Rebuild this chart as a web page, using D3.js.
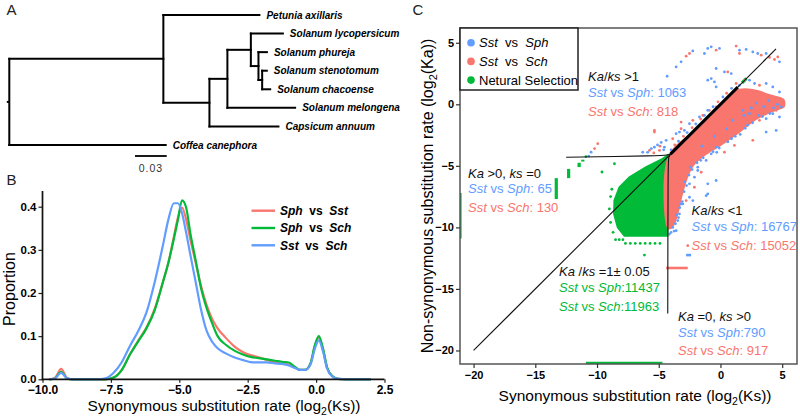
<!DOCTYPE html>
<html><head><meta charset="utf-8">
<script src="https://cdn.jsdelivr.net/npm/d3@7"></script>
<style>
body{margin:0;background:#fff;}
svg{font-family:"Liberation Sans",Arial,Helvetica,sans-serif;}
text{white-space:pre;}
</style></head><body>
<svg id="c" width="800" height="419"></svg>
<script>
// ---------------- DATA ----------------
// Panel A: phylogenetic tree (branch lengths, substitutions/site)
const treeNodes = [
  {id:"root", parent:null, len:0},
  {id:"n1", parent:"root", len:0.1458},
  {id:"Petunia axillaris", parent:"n1", len:0.0909},
  {id:"n2", parent:"n1", len:0.0436},
  {id:"n3", parent:"n2", len:0.0170},
  {id:"n4", parent:"n3", len:0.0222},
  {id:"Solanum lycopersicum", parent:"n4", len:0.0303},
  {id:"n5", parent:"n4", len:0.0072},
  {id:"Solanum phureja", parent:"n5", len:0.0080},
  {id:"n6", parent:"n5", len:0.0035},
  {id:"Solanum stenotomum", parent:"n6", len:0.0044},
  {id:"Solanum chacoense", parent:"n6", len:0.0076},
  {id:"Solanum melongena", parent:"n3", len:0.0641},
  {id:"Capsicum annuum", parent:"n2", len:0.0653},
  {id:"Coffea canephora", parent:"root", len:0.1480}
];
const scaleBarValue = 0.03;

// Panel B: density of log2(Ks)
const ksGrid = [-9.75,-9.55,-9.32,-9.1,-8.9,-8.0,-7.7,-7.4,-7.1,-6.8,-6.5,-6.2,-5.9,-5.6,-5.4,-5.2,-5.05,-4.9,-4.75,-4.6,-4.4,-4.2,-4.0,-3.8,-3.6,-3.3,-3.0,-2.7,-2.4,-2.1,-1.8,-1.5,-1.2,-1.0,-0.8,-0.6,-0.4,-0.2,-0.05,0.1,0.25,0.4,0.6,0.8,1.1,1.6,2.0];
const sphSst = [0,0.003,0.024,0.003,0,0,0,0.004,0.022,0.058,0.09,0.12,0.163,0.225,0.27,0.33,0.375,0.398,0.37,0.325,0.27,0.215,0.172,0.14,0.118,0.096,0.077,0.064,0.056,0.051,0.045,0.04,0.036,0.034,0.029,0.022,0.022,0.037,0.076,0.097,0.07,0.027,0.007,0.001,0,0,0];
const sphSch = [0,0.002,0.017,0.002,0,0,0,0.004,0.022,0.058,0.088,0.118,0.16,0.225,0.27,0.325,0.37,0.415,0.398,0.34,0.275,0.21,0.165,0.13,0.1,0.08,0.067,0.058,0.052,0.049,0.046,0.043,0.04,0.039,0.03,0.022,0.022,0.038,0.078,0.1,0.072,0.028,0.007,0.001,0,0,0];
const sstSch = [0,0.002,0.015,0.002,0,0,0.002,0.015,0.04,0.078,0.112,0.155,0.225,0.31,0.37,0.408,0.408,0.385,0.34,0.29,0.225,0.16,0.112,0.087,0.072,0.06,0.051,0.045,0.04,0.039,0.039,0.037,0.035,0.032,0.027,0.022,0.022,0.035,0.07,0.09,0.065,0.025,0.006,0.001,0,0,0];
const legendB = [["Sph","Sst"],["Sph","Sch"],["Sst","Sch"]];
const xTicksB = [-10,-7.5,-5,-2.5,0,2.5];
const yTicksB = [0,0.1,0.2,0.3,0.4];

// Panel C: log2(Ks) vs log2(Ka)
const ticksC = [-20,-15,-10,-5,0,5];
const greenCloud = [[-4.3,-4.16],[-4.68,-4.43],[-6.02,-5.11],[-7.37,-5.92],[-8.18,-6.74],[-8.59,-7.82],[-8.62,-8.91],[-8.32,-10.0],[-7.78,-10.68],[-4.3,-10.68]];
const redBand = [[-4.2,-4.25],[-2.0,-2.05],[0.5,0.45],[1.2,1.1],[2.0,1.25],[3.0,1.1],[4.0,0.75],[5.1,0.4],[5.2,0.1],[5.15,-0.2],[4.4,-0.5],[3.0,-1.15],[1.6,-2.2],[0.2,-3.2],[-1.1,-4.0],[-2.2,-4.95],[-2.75,-6.1],[-3.15,-7.5],[-3.45,-8.8],[-3.85,-9.9],[-4.2,-10.1]];
const bluePts = [
 [-4.32,2.28],[-3.59,3.04],[-3.19,3.45],[-2.24,4.34],[-1.3,4.13],[-1.03,4.54],[-0.75,4.67],[-0.08,4.54],[1.54,4.4],[2.08,4.46],[2.62,4.26],[3.02,4.13],[3.7,4.13],[4.78,3.45],
 [-0.35,2.91],[-1.03,1.96],[-0.75,2.09],[-0.49,1.82],[-0.35,1.41],[0.32,2.63],[0.87,2.5],[1.54,1.55],[2.35,1.96],[2.76,1.69],[3.7,1.69],[4.24,1.41],[4.78,1.0],
 [4.92,-0.22],[4.24,-0.76],[3.7,-1.17],[2.35,-0.76],[1.81,-0.49],[2.5,-0.3],[3.5,-0.2],[4.6,0.0],[3.9,0.3],[2.9,0.1],[4.3,-0.3],[1.9,-0.9],[1.0,-1.3],[0.5,-2.0],[-0.5,-2.6],[-1.5,-3.4],
 [-6.3,-3.89],[-5.35,-3.48],[-4.54,-3.48],[-4.4,-2.93],[-3.59,-2.39],[-2.92,-2.12],[-2.51,-1.57],[-1.7,-1.03],[-1.03,-0.49],[-3.32,-2.26],
 [-5.9,-3.9],[-5.6,-3.6],[-5.1,-3.3],[-4.8,-3.1],[-4.6,-3.7],
 [-4.0,-3.7],[-3.4,-3.0],[-2.7,-2.3],[-2.0,-1.6],[-1.3,-0.9],[-0.6,-0.2],[0.2,0.6],[0.9,1.3],
 [-0.35,-3.48],[3.7,-2.26],[4.51,-2.12],[4.78,-1.03],[-0.75,-4.02],[-1.16,-4.56],[-1.84,-5.11],[-2.11,-5.92],[-0.35,-6.19],[-2.51,-6.46],[-1.03,-7.28],[-2.51,-7.55],[-3.05,-8.09],[-1.84,-5.38],[-1.03,-6.46],[-3.32,-8.91],[-3.46,-9.45],[-3.87,-10.0],[-3.59,-10.27],[-4.13,-10.54],[-2.24,-7.82],[-1.16,-7.42],
 [4.0,-0.75],[3.4,-1.0],[2.6,-1.5],[2.0,-1.95],[1.2,-2.6],[0.6,-3.05],[-0.1,-3.55],[-0.6,-3.85],[-1.4,-4.35],[-1.9,-4.75],[-2.3,-5.3],[-2.55,-5.75],[-2.75,-6.6],[-2.95,-7.1],[-3.1,-7.9],[-3.3,-8.4],[-3.4,-9.2],[-3.65,-9.7],[-3.75,-10.3],[-4.0,-10.4],
 [3.1,-0.9],[2.2,-1.7],[1.6,-2.45],[0.9,-2.8],[-0.3,-3.9],[-1.6,-4.55],[-2.45,-5.1],[-2.9,-6.3],[-3.2,-8.1],[-3.55,-9.0],
 [-10.67,-4.21],[-10.48,-3.89]
];
const redPts = [
 [-2.78,3.91],[-2.51,4.13],[-0.35,4.4],[1.27,4.73],[1.54,4.13],[3.3,3.99],[3.97,3.81],[4.38,3.64],[4.64,3.85],[0.59,2.63],[1.27,1.69],[1.94,1.96],[3.16,1.55],[4.51,-0.49],[3.16,-1.3],
 [-5.75,-3.75],[-4.94,-3.75],[-3.87,-2.8],[-3.19,-1.98],[-2.24,-1.3],[-1.43,-0.9],[-5.35,-2.12],[-3.19,-1.44],[-0.35,-0.22],[-5.4,-3.95],[-4.9,-3.4],
 [-3.7,-3.3],[-3.0,-2.6],[-2.3,-1.9],[-1.6,-1.2],[-0.9,-0.5],[-0.2,0.2],[0.5,0.9],
 [1.13,-3.34],[2.62,-2.93],[-1.56,-5.52],[-2.11,-6.74],[-2.78,-7.82],[0.32,-3.89],[-2.65,-11.49],
 [-9.94,-3.2],[-10.2,-3.6],[-5.35,-2.26]
];
const greenPts = [
 [-8.59,-4.83],[-10.9,-4.25],[-6.16,-12.25],
 [-7.7,-11.3],[-7.3,-11.3],[-6.9,-11.3],[-6.5,-11.3],[-6.1,-11.3],[-5.7,-11.3],[-5.3,-11.3],[-4.9,-11.3],
 [-8.5,-11.0],[-8.2,-11.0],[-7.9,-11.0],
 [-8.9,-7.5],[-9.0,-8.5],[-8.9,-9.6],[-8.7,-10.4],[-8.8,-6.9],[-9.6,-5.5]
];
const greenRuns = [
 [[-13.3,-6.0],[-13.3,-7.7]],[[-12.3,-5.25],[-12.3,-6.0]],[[-11.45,-4.75],[-11.45,-5.1]],[[-11.15,-4.5],[-11.15,-4.65]],
 [[-21.1,-7.2],[-21.1,-10.9]],[[-10.9,-21.05],[-4.7,-21.05]],[[1.75,1.75],[2.1,2.1]]
];
const redRuns = [[[-4.4,-13.3],[-2.65,-13.3]]];
const blueRuns = [[[-2.78,-12.25],[-2.38,-12.25]]];
const diagLine = [[-20,-20],[4.5,4.5]];
const diagThick = [[-4.05,-4.05],[1.4,1.4]];
const hLine = [[-12.5,-4.3],[-4.7,-4.18],[-4.35,-4.12],[-4.05,-4.05]];
const vLine = [[-4.05,-4.05],[-4.2,-4.3],[-4.25,-4.6],[-4.27,-17.0]];
const legendC = [["Sst","Sph"],["Sst","Sch"],["Netural Selection"]];

// ---------------- DRAW ----------------
const FONT = '"Liberation Sans", Arial, Helvetica, sans-serif';
const RED="#F8766D", GREEN="#00BA38", BLUE="#619CFF";
const svg = d3.select("#c");
svg.append("rect").attr("width",800).attr("height",419).attr("fill","#fff");

function panelLabel(t,x,y){ svg.append("text").attr("x",x).attr("y",y).attr("font-size",15).attr("fill","#222").text(t); }
panelLabel("A",6.5,15); panelLabel("B",6.5,184.5); panelLabel("C",412.5,15);

// ---- Panel A ----
const root = d3.stratify().id(d=>d.id).parentId(d=>d.parent)(treeNodes);
root.eachBefore(n=>{ n.dist = (n.parent?n.parent.dist:0) + n.data.len; });
const leaves = root.leaves();
const yLeaf = d3.scaleLinear().domain([0,leaves.length-1]).range([15,145]);
leaves.forEach((l,i)=> l.py = yLeaf(i));
root.eachAfter(n=>{ if(n.children) n.py = (n.children[0].py + n.children[n.children.length-1].py)/2; });
const xTree = d3.scaleLinear().domain([0,scaleBarValue]).range([9.3,9.3+31.7]);
const gA = svg.append("g").attr("stroke","#000").attr("stroke-width",2).attr("stroke-linecap","square");
root.descendants().forEach(n=>{
  if(n.parent) gA.append("line").attr("x1",xTree(n.parent.dist)).attr("x2",xTree(n.dist)).attr("y1",n.py).attr("y2",n.py);
  if(n.children) gA.append("line").attr("x1",xTree(n.dist)).attr("x2",xTree(n.dist)).attr("y1",n.children[0].py).attr("y2",n.children[n.children.length-1].py);
});
gA.append("line").attr("x1",xTree(0)-2.5).attr("x2",xTree(0)).attr("y1",root.py).attr("y2",root.py).attr("stroke-linecap","butt");
leaves.forEach(l=>{
  svg.append("text").attr("x",xTree(l.dist)+7).attr("y",l.py).attr("dy","0.36em")
    .attr("font-size",10).attr("font-weight","bold").attr("font-style","italic").text(l.id);
});
svg.append("line").attr("x1",135).attr("x2",135+xTree(scaleBarValue)-xTree(0)).attr("y1",156).attr("y2",156).attr("stroke","#000").attr("stroke-width",1.8);
svg.append("text").attr("x",135+(xTree(scaleBarValue)-xTree(0))/2).attr("y",171.5).attr("text-anchor","middle")
  .attr("font-size",10.5).attr("letter-spacing",1).attr("fill","#333").text(String(scaleBarValue));

// ---- Panel B ----
const xB = d3.scaleLinear().domain([-10,2.5]).range([42.5,384.5]);
const yB = d3.scaleLinear().domain([0,0.4]).range([379.3,206.7]);
const gB = svg.append("g");
const lineB = d3.line().x((d,i)=>xB(ksGrid[i])).y(d=>yB(d)).curve(d3.curveMonotoneX);
const colorsB=[RED,GREEN,BLUE];
[sphSst,sphSch,sstSch].forEach((s,k)=>{
  gB.append("path").attr("d",lineB(s)).attr("fill","none").attr("stroke",colorsB[k]).attr("stroke-width",2.2).attr("stroke-linejoin","round");
});
const gyB = gB.append("g").attr("transform","translate(42.5,0)")
  .call(d3.axisLeft(yB).tickValues(yTicksB).tickFormat(d3.format(".1f")).tickSize(4).tickPadding(2));
gyB.select(".domain").remove();
gyB.attr("font-family",FONT).attr("font-size",11.5).attr("font-weight","bold");
gyB.selectAll("text").attr("dy","0.3em");
gyB.selectAll("line").attr("stroke","#222").attr("stroke-width",1.2);
const gxB = gB.append("g").attr("transform",`translate(0,${yB(0)})`)
  .call(d3.axisBottom(xB).tickValues(xTicksB).tickFormat(d3.format(".1f")).tickSize(3.5).tickPadding(3));
gxB.select(".domain").remove();
gxB.attr("font-family",FONT).attr("font-size",12).attr("font-weight","bold");
gxB.selectAll("line").attr("stroke","#222").attr("stroke-width",1.2);
gB.append("line").attr("x1",42.5).attr("x2",42.5).attr("y1",191).attr("y2",yB(0)+0.8).attr("stroke","#111").attr("stroke-width",1.7);
gB.append("line").attr("x1",41.7).attr("x2",384.5).attr("y1",yB(0)).attr("y2",yB(0)).attr("stroke","#111").attr("stroke-width",1.7);
// legend B
legendB.forEach((p,i)=>{
  const y = 210.7 + i*17.3;
  gB.append("line").attr("x1",251.5).attr("x2",275).attr("y1",y).attr("y2",y).attr("stroke",colorsB[i]).attr("stroke-width",2.4);
  const t = gB.append("text").attr("x",280).attr("y",y+4.2).attr("font-size",12).attr("font-weight","bold");
  t.append("tspan").attr("font-style","italic").text(p[0]);
  t.append("tspan").text("  vs  ");
  t.append("tspan").attr("font-style","italic").text(p[1]);
});
// axis titles B
{
  const t = svg.append("text").attr("x",224).attr("y",411).attr("text-anchor","middle").attr("font-size",15.5);
  t.append("tspan").text("Synonymous substitution rate (log");
  t.append("tspan").attr("font-size",10.5).attr("dy",4).text("2");
  t.append("tspan").attr("dy",-4).text("(Ks))");
  svg.append("text").attr("transform","translate(15,289) rotate(-90)").attr("text-anchor","middle").attr("font-size",16).text("Proportion");
}

// ---- Panel C ----
const xC = d3.scaleLinear().domain([-21.1,6.2]).range([460,797]);
const yC = d3.scaleLinear().domain([-21.1,6.2]).range([364,28]);
svg.append("clipPath").attr("id","clipC").append("rect").attr("x",460).attr("y",28).attr("width",337).attr("height",336);
const gC = svg.append("g").attr("clip-path","url(#clipC)");
const poly = d3.line().x(d=>xC(d[0])).y(d=>yC(d[1]));
gC.append("path").attr("d",poly(greenCloud)+"Z").attr("fill",GREEN).attr("stroke",GREEN).attr("stroke-width",2);
gC.append("path").attr("d",d3.line().x(d=>xC(d[0])).y(d=>yC(d[1])).curve(d3.curveCatmullRomClosed)(redBand)).attr("fill",RED).attr("stroke",RED).attr("stroke-width",1.5);
function runs(arr,col,w){ arr.forEach(r=> gC.append("path").attr("d",poly(r)).attr("stroke",col).attr("stroke-width",w).attr("fill","none")); }
runs(greenRuns,GREEN,3.2); runs(redRuns,RED,2.6); runs(blueRuns,BLUE,2.6);
function pts(arr,col){ gC.append("g").selectAll("circle").data(arr).join("circle").attr("cx",d=>xC(d[0])).attr("cy",d=>yC(d[1])).attr("r",1.4).attr("fill",col); }
pts(greenPts,GREEN); pts(redPts,RED); pts(bluePts,BLUE);
gC.append("path").attr("d",poly(diagLine)).attr("stroke","#111").attr("stroke-width",1.1).attr("fill","none");
gC.append("path").attr("d",poly(diagThick)).attr("stroke","#000").attr("stroke-width",3).attr("fill","none");
gC.append("path").attr("d",d3.line().x(d=>xC(d[0])).y(d=>yC(d[1])).curve(d3.curveBasis)(hLine)).attr("stroke","#111").attr("stroke-width",1.1).attr("fill","none");
gC.append("path").attr("d",d3.line().x(d=>xC(d[0])).y(d=>yC(d[1])).curve(d3.curveBasis)(vLine)).attr("stroke","#111").attr("stroke-width",1.1).attr("fill","none");
// frame
svg.append("rect").attr("x",460).attr("y",28).attr("width",337).attr("height",336).attr("fill","none").attr("stroke","#555").attr("stroke-width",1.5);
// axes C
const gyC = svg.append("g").attr("transform","translate(460,0)")
  .call(d3.axisLeft(yC).tickValues(ticksC).tickFormat(d3.format("d")).tickSize(4).tickPadding(2));
gyC.select(".domain").remove();
gyC.attr("font-family",FONT).attr("font-size",11).attr("font-weight","bold");
gyC.selectAll("line").attr("stroke","#333").attr("stroke-width",1.2);
const gxC = svg.append("g").attr("transform","translate(0,364)")
  .call(d3.axisBottom(xC).tickValues(ticksC).tickFormat(d3.format("d")).tickSize(4).tickPadding(3));
gxC.select(".domain").remove();
gxC.attr("font-family",FONT).attr("font-size",11).attr("font-weight","bold");
gxC.selectAll("line").attr("stroke","#333").attr("stroke-width",1.2);
{
  const t = svg.append("text").attr("x",635).attr("y",400.5).attr("text-anchor","middle").attr("font-size",15.5);
  t.append("tspan").text("Synonymous substitution rate (log");
  t.append("tspan").attr("font-size",10.5).attr("dy",4).text("2");
  t.append("tspan").attr("dy",-4).text("(Ks))");
  const t2 = svg.append("text").attr("transform","translate(433,196) rotate(-90)").attr("text-anchor","middle").attr("font-size",16);
  t2.append("tspan").text("Non-synonymous substitution rate (log");
  t2.append("tspan").attr("font-size",11).attr("dy",4).text("2");
  t2.append("tspan").attr("dy",-4).text("(Ka))");
}
// legend C
svg.append("rect").attr("x",460).attr("y",28).attr("width",118).attr("height",62).attr("fill","#fff").attr("stroke","#222").attr("stroke-width",1.5);
const legColC=[BLUE,RED,GREEN];
legendC.forEach((p,i)=>{
  const y = 42.7 + i*18.7;
  svg.append("circle").attr("cx",471).attr("cy",y).attr("r",3.8).attr("fill",legColC[i]);
  const t = svg.append("text").attr("x",479).attr("y",y+4.6).attr("font-size",13);
  if(p.length===2){
    t.append("tspan").attr("font-style","italic").text(p[0]);
    t.append("tspan").text("  vs  ");
    t.append("tspan").attr("font-style","italic").text(p[1]);
  } else t.text(p[0]);
});
// annotations C
function rich(x,y,parts,col){
  const t = svg.append("text").attr("x",x).attr("y",y).attr("font-size",13).attr("fill",col);
  parts.forEach(p=> t.append("tspan").attr("font-style",p[1]?"italic":"normal").text(p[0]));
}
function pair(x,y,a,b,num,col){ rich(x,y,[[a,1],[" vs ",0],[b,1],[num,0]],col); }
rich(588,81,[["Ka",1],["/",0],["ks",1],[" >1",0]],"#111");
pair(588,97,"Sst","Sph",": 1063",BLUE);
pair(588,115.5,"Sst","Sch",": 818",RED);
rich(468,178,[["Ka",1],[" >0, ",0],["ks",1],[" =0",0]],"#111");
pair(468,193,"Sst","Sph",": 65",BLUE);
pair(468,211.5,"Sst","Sch",": 130",RED);
rich(691.5,215,[["Ka",1],["/",0],["ks",1],[" <1",0]],"#111");
pair(691.5,231,"Sst","Sph",": 16767",BLUE);
pair(691.5,249.5,"Sst","Sch",": 15052",RED);
rich(559,276,[["Ka",1],[" /",0],["ks",1],[" =1± 0.05",0]],"#111");
pair(559,292,"Sst","Sph",":11437",GREEN);
pair(559,310.5,"Sst","Sch",":11963",GREEN);
rich(678,321,[["Ka",1],[" =0, ",0],["ks",1],[" >0",0]],"#111");
pair(678,336.5,"Sst","Sph",":790",BLUE);
pair(678,355,"Sst","Sch",": 917",RED);
</script></body></html>
